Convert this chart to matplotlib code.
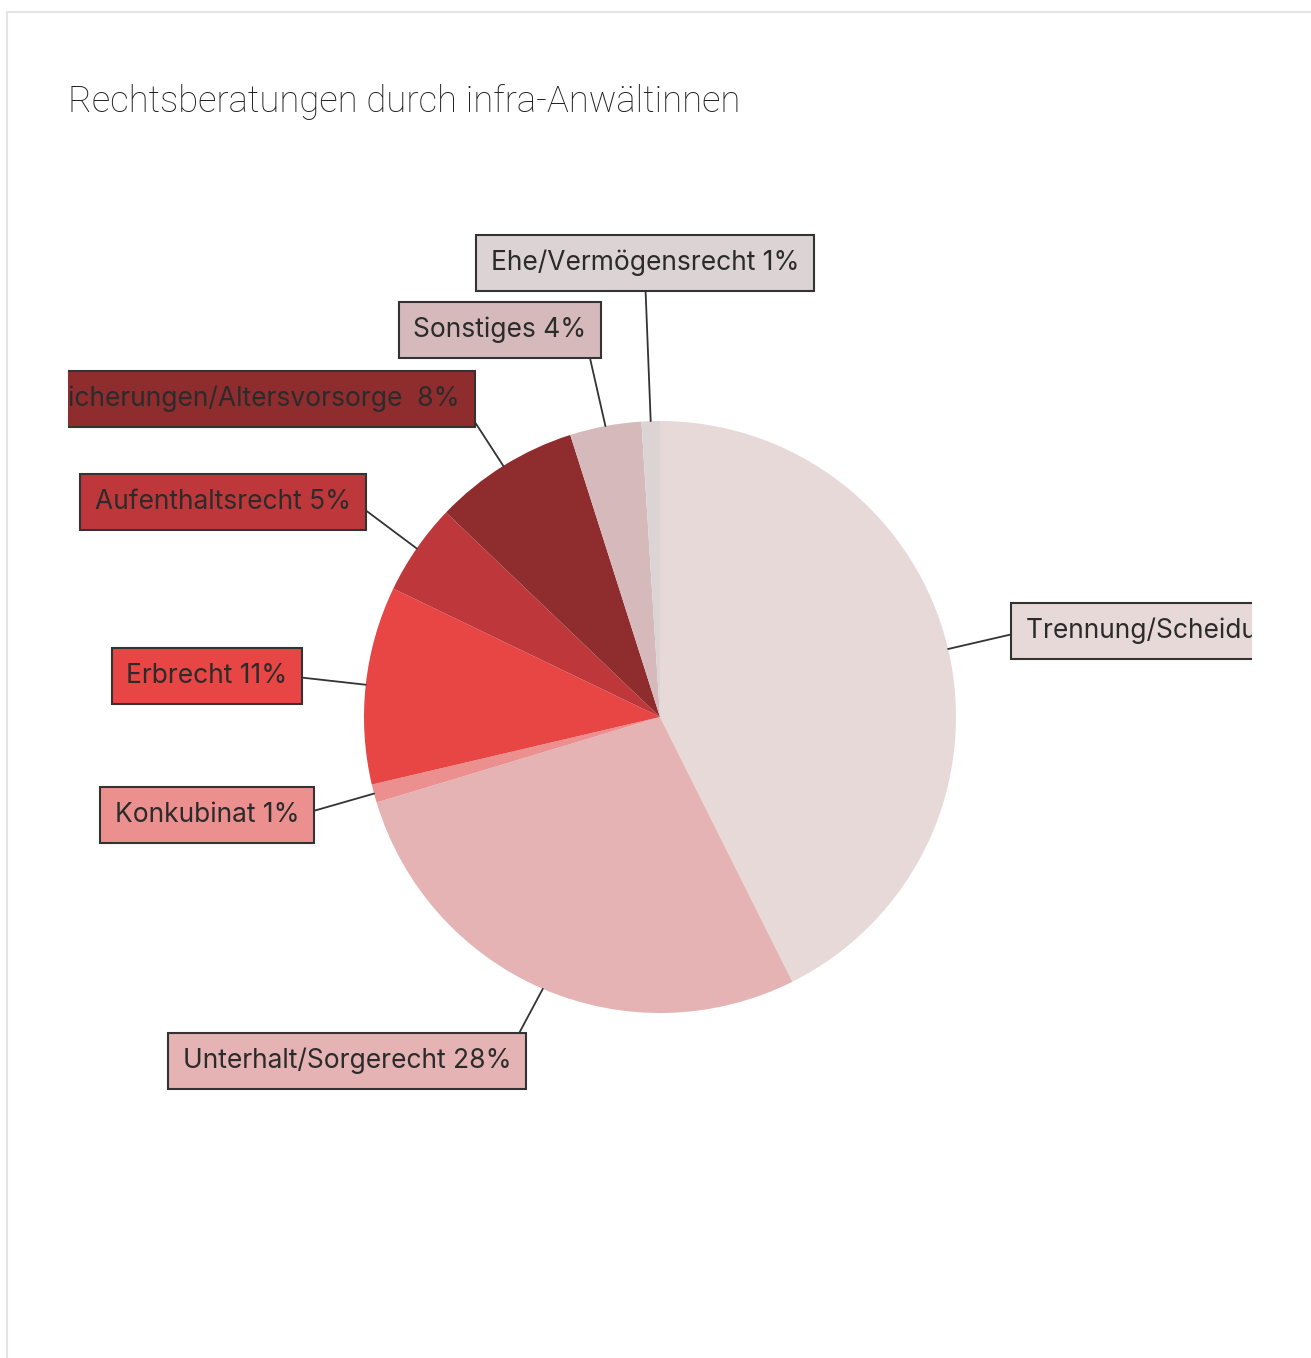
import numpy as np
import matplotlib.pyplot as plt
from matplotlib.patches import Rectangle

# Data (clockwise from 12 o'clock), shares in percent
categories = ["Trennung/Scheidung", "Unterhalt/Sorgerecht", "Konkubinat", "Erbrecht",
              "Aufenthaltsrecht", "Sozialversicherungen/Altersvorsorge ", "Sonstiges",
              "Ehe/Vermögensrecht"]
shares = [42.6, 27.7, 1.0, 10.8, 5.0, 7.95, 3.9, 1.0]
colors = ["#e8d9d9", "#e5b3b3", "#ec8f8f", "#e84545", "#be383b", "#8f2c2e", "#d6babb", "#dbd3d4"]

# Layout (pixels, top-left origin): label anchor, alignment, arrow start on text box
W, H = 1311, 1358
label_pos = [(1026, 631), (347, 1061), (207, 815), (207, 676),
             (223, 502), (460, 399), (500, 330), (645, 263)]
label_ha = ["left", "center", "center", "center", "center", "right", "center", "center"]
label_rel = [(0, 0.5), (1, 1), (1, 0.5), (1, 0.5), (1, 0.6), (1, 0.5), (1, 0), (0.5, 0)]

center_px, radius_px = (660, 717), 296
ax_left, ax_right, ax_top, ax_bottom = 68, 1252, 140, 1340

fig = plt.figure(figsize=(W / 100, H / 100), dpi=100)
ax = fig.add_axes([ax_left / W, (H - ax_bottom) / H, (ax_right - ax_left) / W, (ax_bottom - ax_top) / H])


def px(x, y):
    return x, H - y


cx, cy = px(*center_px)
wedges, _ = ax.pie(shares, colors=colors, startangle=90, counterclock=False,
                   center=(cx, cy), radius=radius_px,
                   wedgeprops=dict(linewidth=0))
ax.set_aspect("auto")
ax.set_xlim(ax_left, ax_right)
ax.set_ylim(H - ax_bottom, H - ax_top)
ax.axis("off")

total = sum(shares)
cum = np.cumsum([0] + shares)
for i, name in enumerate(categories):
    mid = (cum[i] + cum[i + 1]) / 2 / total * 360  # clockwise from top
    ang = np.deg2rad(90 - mid)
    xy = (cx + radius_px * np.cos(ang), cy + radius_px * np.sin(ang))
    ax.annotate(f"{name} {shares[i]:.0f}%", xy=xy, xytext=px(*label_pos[i]),
                ha=label_ha[i], va="center", fontsize=19, family="Inter",
                color="#2b2b2b", clip_on=True,
                bbox=dict(boxstyle="square,pad=0.56", fc=colors[i], ec="#333333", lw=1.5),
                arrowprops=dict(arrowstyle="-", color="#333333", lw=1.3,
                                shrinkA=0, shrinkB=0, relpos=label_rel[i]))

fig.text(68 / W, 1 - 112 / H, "Rechtsberatungen durch infra-Anwältinnen",
         fontsize=26.3, family="Roboto", fontweight="light", color="#1f1f1f", va="baseline")

# light card border (top and left edges)
fig.patches.append(Rectangle((7 / W, -0.05), 1.1, 1.05 - 12 / H, transform=fig.transFigure,
                             fill=False, ec="#e4e4e4", lw=1.5, figure=fig))

fig.savefig("out.png", dpi=100)
